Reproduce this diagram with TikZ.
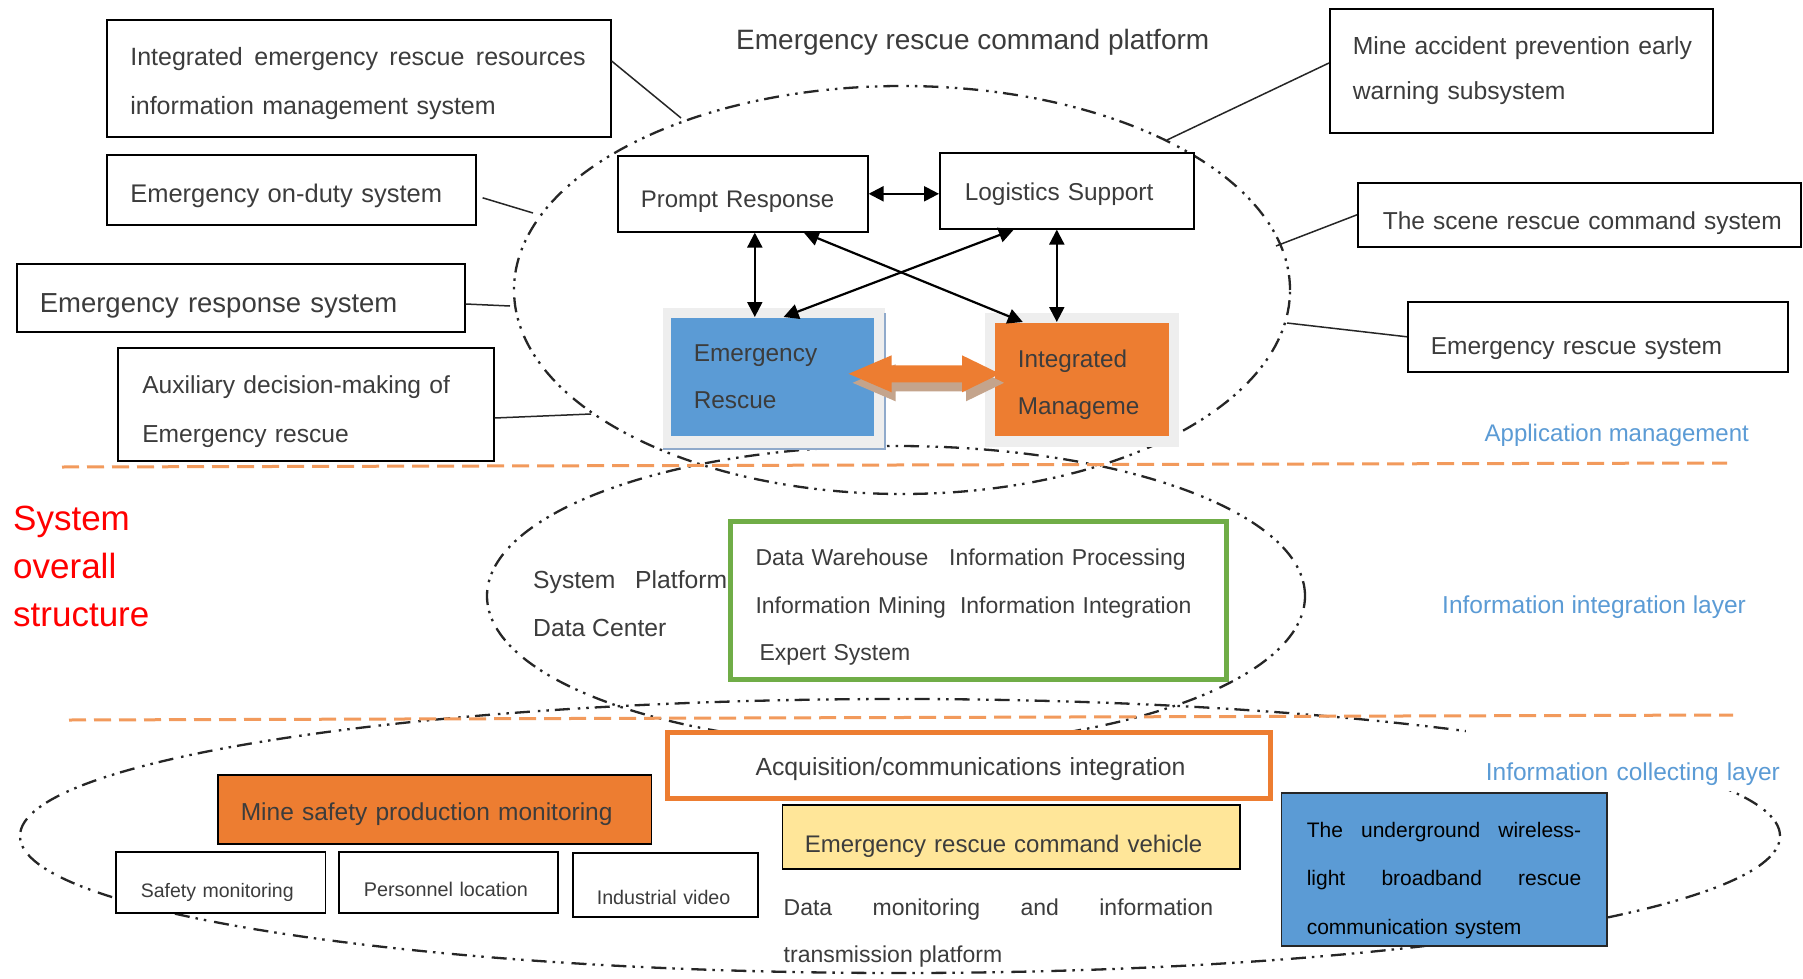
\documentclass[tikz,border=0pt]{standalone}
\usepackage{fontspec}
\setmainfont{Liberation Sans}
\usetikzlibrary{arrows.meta,calc,backgrounds}
\definecolor{txt}{HTML}{3C3C3C}
\definecolor{mblue}{HTML}{5B9BD5}
\definecolor{morange}{HTML}{ED7D31}
\definecolor{mgreen}{HTML}{70AD47}
\definecolor{myellow}{HTML}{FFE699}
\definecolor{dashor}{HTML}{F29A5C}
\definecolor{halo}{HTML}{EEEEEE}
\definecolor{haloline}{HTML}{90AACB}
\definecolor{shadowc}{HTML}{C4A48C}
\definecolor{lblue}{HTML}{5B9BD5}
\newcommand{\myfs}[2]{\fontsize{#1pt}{#2pt}\selectfont}
\newcommand{\mystrut}[1]{\rule{0pt}{#1pt}}
\newcommand{\jline}[2]{\leavevmode\hbox to #1pt{#2}}
\newcommand{\fatarr}[3]{\fill[#3] (#1) -- ($(#1)+(43,-18.5)$) -- ($(#1)+(43,-8.5)$) -- ($(#2)+(-38,-8.5)$) -- ($(#2)+(-38,-18.5)$) -- (#2) -- ($(#2)+(-38,18.5)$) -- ($(#2)+(-38,8.5)$) -- ($(#1)+(43,8.5)$) -- ($(#1)+(43,18.5)$) -- cycle;}
\begin{document}
\begin{tikzpicture}[x=1pt,y=-1pt,
  box/.style={draw=black, line width=1.6pt, fill=white, text=txt, align=left, inner ysep=0pt, anchor=north west},
  bx/.style n args={4}{minimum width=#1pt, minimum height=#2pt, inner xsep=#3pt, text width=#4pt},
  lbl/.style={inner sep=0pt, text=txt, anchor=base west},
  dd/.style={line width=2.3pt, draw=black!85, dash pattern=on 15pt off 6pt on 2.5pt off 6pt on 2.5pt off 8pt},
  layerline/.style={draw=dashor, line width=3pt, dash pattern=on 17pt off 8pt},
  conn/.style={line width=1.5pt, draw=black!85},
  biarrow/.style={line width=2.2pt, >={Triangle[length=15pt,width=15pt]}, <->},
]
\useasboundingbox (0,0) rectangle (1803,979);
\begin{scope}[on background layer]
  \fill[white] (0,0) rectangle (1803,979);
  \draw[dd] (902,290) ellipse [x radius=388pt, y radius=204pt];
  \draw[dd] (896,596) ellipse [x radius=409pt, y radius=150pt];
  \draw[dd] (900,836) ellipse [x radius=880pt, y radius=137pt];
  \draw[layerline] (62,467) -- (1727,463);
  \draw[layerline] (69,720) -- (1733,715);
\end{scope}

% titles and layer labels
\node[lbl, font=\myfs{28}{34}] (title) at (736,50) {Emergency rescue command platform};
\node[lbl, text=lblue, font=\myfs{24}{28}] (appl) at (1484.5,441.7) {Application management};
\node[lbl, text=lblue, font=\myfs{24.5}{29}] (infint) at (1442,613.3) {Information integration layer};
\node[anchor=north west, inner sep=0pt, align=left, text=red, font=\myfs{35}{48}] (sos) at (13,506.2) {System\\overall\\structure};

% left boxes
\node[box, bx={504}{117}{23.5}{457}, font=\myfs{25}{48.3}] (boxA) at (106,19) {\mystrut{28.5}\jline{455.5}{Integrated\hfill emergency\hfill rescue\hfill resources}\\information management system};
\node[box, bx={369}{70}{23.5}{322}, font=\myfs{25.5}{30}] (boxB) at (106,154) {\mystrut{30.8}Emergency on-duty system};
\node[box, bx={448}{68}{23}{402}, font=\myfs{27.5}{33}] (boxC) at (16,263) {\mystrut{35.2}Emergency response system};
\node[box, bx={376}{113}{24.5}{327}, font=\myfs{24.6}{49}] (boxD) at (117,347) {\mystrut{32.6}Auxiliary decision-making of\\Emergency rescue};

% central boxes
\node[box, bx={250}{76}{23}{204}, font=\myfs{24}{29}] (prompt) at (617,155) {\mystrut{32.4}Prompt Response};
\node[box, bx={254}{76}{25}{204}, font=\myfs{24.4}{29}] (logistics) at (939,152) {\mystrut{23.6}Logistics Support};
\node[box, draw=none, fill=mblue, bx={202.5}{118}{22.5}{157.5}, font=\myfs{24.4}{46.7}] (er) at (670.5,317) {Emergency\\Rescue};
\node[box, draw=none, fill=morange, bx={174}{113}{23}{128}, font=\myfs{24.3}{46.7}] (im) at (994,322) {\mystrut{28.1}Integrated\\Manageme};

% right boxes
\node[box, bx={383}{124}{23}{337}, font=\myfs{24.7}{45}] (mine) at (1329,8) {\mbox{Mine accident prevention early}\\warning subsystem};
\node[box, bx={443}{64}{25}{393}, font=\myfs{24.5}{29}] (scene) at (1357,182) {\mystrut{35.1}\mbox{The scene rescue command system}};
\node[box, bx={380}{70}{23}{334}, font=\myfs{24.5}{29}] (ers) at (1407,301) {\mystrut{39.7}Emergency rescue system};

% information integration layer
\node[anchor=north west, inner sep=0pt, align=left, text=txt, font=\myfs{24.7}{48.4}] (sysplat) at (533,570.3) {\jline{194}{System\hfill Platform}\\Data Center};
\node[box, draw=mgreen, line width=5pt, bx={496}{158}{25.5}{445}, font=\myfs{23}{47.5}] (green) at (727.5,518.5) {\mystrut{31.4}\mbox{Data Warehouse\hspace{13pt} Information Processing}\\\mbox{Information Mining\hspace{6.4pt} Information Integration}\\\hspace*{4pt}Expert System};

% information collecting layer
\node[box, draw=none, fill=white, text=lblue, bx={333}{64}{20}{293}, font=\myfs{24.5}{29}] (infcol) at (1465,726) {\mystrut{49}\mbox{Information collecting layer}};
\node[box, draw=morange, line width=5pt, bx={603.5}{66}{88.5}{426.5}, font=\myfs{24.8}{30}] (acq) at (664.5,729.5) {\mystrut{25.6}\mbox{Acquisition/communications integration}};
\node[box, fill=myellow, bx={457.5}{64}{22.5}{412.5}, font=\myfs{24}{29}] (veh) at (781.5,804) {\mystrut{36.4}Emergency rescue command vehicle};
\node[box, fill=morange, bx={433.5}{69}{23}{387.5}, font=\myfs{24.5}{29}] (ms) at (217,774) {\mystrut{28.1}Mine safety production monitoring};
\node[box, bx={209.5}{61}{25}{159.5}, font=\myfs{19.5}{24}] (safe) at (115,851) {\mystrut{34.5}Safety monitoring};
\node[box, bx={219}{61}{25}{169}, font=\myfs{19.8}{24}] (pers) at (338,851) {\mystrut{28.4}Personnel location};
\node[box, bx={185}{64}{24}{137}, font=\myfs{19.7}{24}] (video) at (572,852) {\mystrut{40}Industrial video};
\node[anchor=north west, inner sep=0pt, align=left, text=txt, font=\myfs{23}{47.7}] (dmtp) at (783.5,898.2) {\jline{429.5}{Data\hfill monitoring\hfill and\hfill information}\\transmission platform};
\node[box, fill=mblue, draw=black!85, line width=1.5pt, text=black, bx={325.5}{153}{25.5}{274.5}, font=\myfs{21}{48.3}] (ug) at (1280.5,792) {\mystrut{37.4}\jline{274.5}{The\hfill underground\hfill wireless-}\\\jline{274.5}{light\hfill broadband\hfill rescue}\\communication system};

% halos behind the two coloured boxes
\begin{scope}[on background layer]
  \fill[halo] ($(er.north west)+(-8,-9)$) rectangle ($(er.south east)+(10,12)$);
  \draw[haloline, line width=2pt] ($(er.north east)+(10,-4)$) -- ($(er.south east)+(10,12)$) -- ($(er.south west)+(-8,12)$);
  \fill[halo] ($(im.north west)+(-9,-9)$) rectangle ($(im.south east)+(9,10)$);
\end{scope}

% side connectors to the platform ellipse
\coordinate (cA) at (681,118);
\coordinate (cB) at (533,213);
\coordinate (cC) at (510,306);
\coordinate (cD) at (591,414);
\coordinate (cM) at (1167,140);
\coordinate (cS) at (1276,246);
\coordinate (cE) at (1287,323);
\draw[conn] (boxA.east |- 0,61) -- (cA);
\draw[conn] ($(boxB.east)+(6,8)$) -- (cB);
\draw[conn] (boxC.east |- 0,304) -- (cC);
\draw[conn] (boxD.east |- 0,418) -- (cD);
\draw[conn] (mine.west |- 0,63) -- (cM);
\draw[conn] (scene.west) -- (cS);
\draw[conn] (ers.west) -- (cE);

% arrows between the four platform boxes
\coordinate (pA) at ($(prompt.south)+(12,0)$);
\coordinate (lA) at ($(logistics.south)+(-10,0)$);
\draw[biarrow] (prompt.east) -- (prompt.east -| logistics.west);
\draw[biarrow] (pA) -- (pA |- er.north);
\draw[biarrow] (lA) -- (lA |- im.north);
\draw[biarrow] ($(prompt.south)+(61,0)$) -- ($(im.north)+(-59,0)$);
\draw[biarrow] ($(logistics.south)+(-53,0)$) -- ($(er.north)+(11,0)$);

% fat double arrow between Emergency Rescue and Integrated Management
\coordinate (fa1) at ($(er.east)+(-26,-3)$);
\coordinate (fa2) at ($(fa1 -| im.west)+(6,0)$);
\coordinate (fs1) at ($(fa1)+(4,9)$);
\coordinate (fs2) at ($(fa2)+(4,9)$);
\fatarr{fs1}{fs2}{shadowc}
\fatarr{fa1}{fa2}{morange}
\end{tikzpicture}
\end{document}
